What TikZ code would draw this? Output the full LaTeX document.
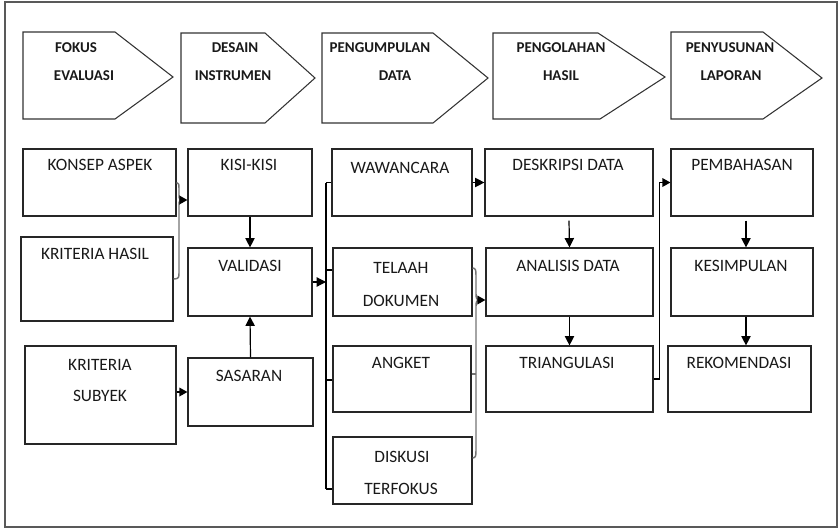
\documentclass[tikz,border=0pt]{standalone}
\usepackage{fontspec}
\setmainfont{Carlito}
\usetikzlibrary{fit,arrows.meta}
\begin{document}
\begin{tikzpicture}[x=0.75pt,y=-0.75pt,
  box/.style={draw=black!85,line width=0.9pt,inner sep=0pt},
  pent/.style={draw=black!80,line width=0.8pt},
  lbl/.style={inner sep=0pt,font=\fontsize{13}{15}\selectfont,text=black!90},
  hdr/.style={inner sep=0pt,font=\bfseries\fontsize{11.25}{13}\selectfont,text=black!90},
  arr/.style={draw=black,line width=0.9pt,-{Triangle[length=7pt,width=7pt]}},
  sarr/.style={draw=black,line width=0.9pt,-{Triangle[length=6pt,width=6.5pt]}},
  conn/.style={draw=black,line width=0.9pt},
  brace/.style={draw=black!55,line width=1.1pt},
]
\useasboundingbox (0,0) rectangle (839,529);
\draw[draw=black!65,line width=1.1pt] (5,2) rectangle (837,527);

% header chevrons
\draw[pent] (23,32) -- (115,32) -- (173,77) -- (115,119) -- (23,119) -- cycle;
\draw[pent] (181,33) -- (265,33) -- (315,78) -- (265,123) -- (181,123) -- cycle;
\draw[pent] (322,33) -- (433,33) -- (488,78) -- (433,123) -- (322,123) -- cycle;
\draw[pent] (493,33) -- (598,33) -- (665,77) -- (600,119) -- (493,119) -- cycle;
\draw[pent] (671,32) -- (763,32) -- (822,78) -- (763,119) -- (671,119) -- cycle;
\node[hdr] (h1a) at (76,48) {FOKUS};
\node[hdr] (h1b) at (84,76) {EVALUASI};
\node[hdr] (h2a) at (235,48) {DESAIN};
\node[hdr] (h2b) at (233,76) {INSTRUMEN};
\node[hdr] (h3a) at (380,48) {PENGUMPULAN};
\node[hdr] (h3b) at (395,76) {DATA};
\node[hdr] (h4a) at (561,48) {PENGOLAHAN};
\node[hdr] (h4b) at (561,76) {HASIL};
\node[hdr] (h5a) at (730,48) {PENYUSUNAN};
\node[hdr] (h5b) at (731,76) {LAPORAN};

% column 1
\node[box,fit={(23,149) (176,216)}] (ka) {};
\node[box,fit={(21,237) (173,321)}] (kh) {};
\node[box,fit={(25,346) (176,444)}] (ks) {};
\node[lbl] (ka-t) at (100,165) {KONSEP ASPEK};
\node[lbl] (kh-t) at (95,254) {KRITERIA HASIL};
\node[lbl] (ks-t1) at (100,365) {KRITERIA};
\node[lbl] (ks-t2) at (100,396) {SUBYEK};

% column 2
\node[box,fit={(188,149) (312,216)}] (kisi) {};
\node[box,fit={(188,248) (312,316)}] (val) {};
\node[box,fit={(188,358) (313,426)}] (sas) {};
\node[lbl] (kisi-t) at (249,165) {KISI-KISI};
\node[lbl] (val-t) at (250,266) {VALIDASI};
\node[lbl] (sas-t) at (249,376) {SASARAN};

% column 3
\node[box,fit={(332,149) (472,216)}] (wa) {};
\node[box,fit={(333,248) (472,316)}] (tel) {};
\node[box,fit={(333,346) (471,412)}] (ang) {};
\node[box,fit={(333,437) (472,504)}] (dis) {};
\node[lbl] (wa-t) at (400,168) {WAWANCARA};
\node[lbl] (tel-t1) at (401,268) {TELAAH};
\node[lbl] (tel-t2) at (401,301) {DOKUMEN};
\node[lbl] (ang-t) at (401,363) {ANGKET};
\node[lbl] (dis-t1) at (402,457) {DISKUSI};
\node[lbl] (dis-t2) at (401,489) {TERFOKUS};

% column 4
\node[box,fit={(485,149) (653,216)}] (desk) {};
\node[box,fit={(486,248) (653,316)}] (ana) {};
\node[box,fit={(486,346) (653,412)}] (tri) {};
\node[lbl] (desk-t) at (568,165) {DESKRIPSI DATA};
\node[lbl] (ana-t) at (568,266) {ANALISIS DATA};
\node[lbl] (tri-t) at (567,363) {TRIANGULASI};

% column 5
\node[box,fit={(671,149) (813,216)}] (pem) {};
\node[box,fit={(671,248) (813,316)}] (kes) {};
\node[box,fit={(668,346) (811,412)}] (rek) {};
\node[lbl] (pem-t) at (742,165) {PEMBAHASAN};
\node[lbl] (kes-t) at (741,266) {KESIMPULAN};
\node[lbl] (rek-t) at (739,363) {REKOMENDASI};

% connectors column 1 -> 2
\coordinate (b1) at (181,200);
\draw[brace] (ka.east) .. controls (179,182.5) and (179,185) .. (179,189) -- (179,195) .. controls (179,199) and (180,200) .. (b1);
\draw[brace] (kh.east) .. controls (179,279) and (179,277) .. (179,273) -- (179,205) .. controls (179,201) and (180,200) .. (b1);
\draw[sarr] (b1) -- (kisi.west |- b1);
\draw[arr] (kisi.south) -- (val.north);
\draw[arr] (sas.north) -- (val.south);
\draw[sarr] (ks.east |- sas.west) -- (sas.west);

% column 2 -> 3 bracket
\coordinate (bt) at (326,182.5);
\coordinate (bb) at (326,489);
\draw[conn] (bt) -- (bb);
\draw[conn] (bt) -- (wa.west);
\draw[conn] (326,270) -- (tel.west |- 0,270);
\draw[conn] (326,380) -- (ang.west |- 0,380);
\draw[conn] (bb) -- (dis.west |- bb);
\draw[arr] (val.east) -- (bt |- val.east);

% column 3 -> 4
\draw[arr] (wa.east) -- (desk.west);
\coordinate (b2) at (478,300);
\draw[brace] (tel.east |- 0,268) .. controls (476,268) and (476,271) .. (476,276) -- (476,294) .. controls (476,298) and (477,300) .. (b2);
\draw[brace] (dis.east |- 0,458) .. controls (476,458) and (476,455) .. (476,450) -- (476,306) .. controls (476,302) and (477,300) .. (b2);
\draw[brace] (ang.east |- 0,374) -- (476,374);
\draw[sarr] (b2) -- (ana.west |- b2);

% column 4
\draw[arr] ([yshift=-3pt]desk.south) -- (ana.north);
\draw[arr] (ana.south) -- (tri.north);
\draw[sarr] (tri.east) -- ++(6,0) |- (pem.west);

% column 5
\draw[arr] ([xshift=3pt,yshift=-3pt]pem.south) -- ([xshift=3pt]kes.north);
\draw[arr] ([xshift=3pt]kes.south) -- ([xshift=3pt]kes.south |- rek.north);
\end{tikzpicture}
\end{document}
